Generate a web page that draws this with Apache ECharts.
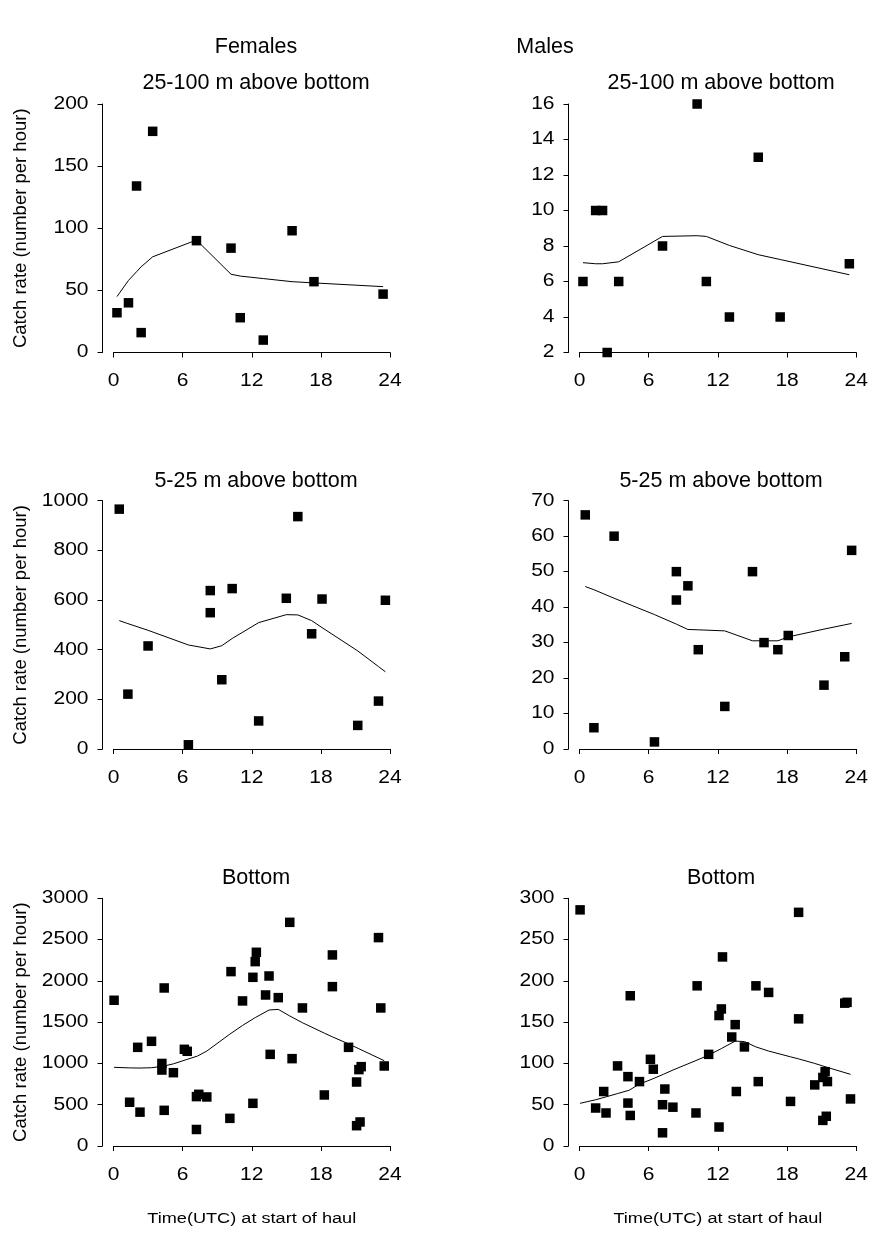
<!DOCTYPE html>
<html>
<head>
<meta charset="utf-8">
<script src="https://cdn.jsdelivr.net/npm/echarts@6/dist/echarts.min.js"></script>
<style>
html,body{margin:0;padding:0;background:#fff;}
#chart{width:869px;height:1245px;}
</style>
</head>
<body>
<div id="chart"></div>
<script>
// ---- data ----
var xTicks = [0, 6, 12, 18, 24];

// Row 1: 25-100 m above bottom
var hoursUpper = [0.3, 1.3, 2.0, 2.4, 3.4, 7.2, 10.2, 11.0, 13.0, 15.5, 17.4, 23.4];
var femUpper   = [32, 40, 134, 16, 178, 90, 84, 28, 10, 98, 57, 47];
var maleUpperHours = [0.3, 1.4, 2.0, 2.4, 3.4, 7.2, 10.2, 11.0, 13.0, 15.5, 17.4, 23.4];
var maleUpper  = [6, 10, 10, 2, 6, 8, 16, 6, 4, 13, 4, 7];
var femUpperFitX = [0.3, 1.3, 2.0, 2.4, 3.4, 7.2, 10.2, 11.0, 13.0, 15.5, 17.4, 23.4];
var femUpperFit  = [45, 58, 65, 69, 77, 90.5, 63, 61.5, 59.5, 57, 56, 53];
var maleUpperFitX = [0.3, 1.4, 2.0, 3.4, 7.2, 10.2, 11.0, 13.0, 15.5, 17.4, 23.4];
var maleUpperFit  = [7.06, 7.0, 7.0, 7.11, 8.54, 8.58, 8.54, 8.03, 7.51, 7.24, 6.38];

// Row 2: 5-25 m above bottom
var hoursMid = [0.5, 1.25, 3.0, 6.5, 8.4, 8.4, 9.4, 10.3, 12.6, 15.0, 16.0, 17.2, 18.1, 21.2, 23.0, 23.6];
var femMid   = [966, 221, 415, 17, 638, 549, 279, 646, 113, 607, 936, 464, 604, 95, 193, 599];
var maleMid  = [66, 6, 60, 2, 50, 42, 46, 28, 12, 50, 30, 28, 32, 18, 26, 56];
var midFitX  = [0.5, 1.25, 3.0, 6.5, 8.4, 9.4, 10.3, 12.6, 15.0, 16.0, 17.2, 18.1, 21.2, 23.0, 23.6];
var femMidFit  = [517, 505, 478, 419, 403, 416, 445, 509, 541, 540, 517, 489, 395, 332, 311];
var maleMidFit = [45.8, 44.9, 42.5, 37.9, 35.2, 33.7, 33.6, 33.3, 30.5, 30.5, 30.5, 31.6, 33.8, 35.0, 35.4];

// Row 3: bottom
var hoursBotF = [0.05, 1.4, 2.1, 2.3, 3.3, 4.2, 4.2, 4.4, 4.4, 5.2, 6.15, 6.4, 7.2, 7.4, 7.2, 8.1, 10.1, 10.2, 11.2, 12.1, 12.1, 12.3, 12.4, 13.2, 13.5, 13.6, 14.3, 15.3, 15.5, 16.4, 18.3, 19.0, 19.0, 20.4, 21.1, 21.1, 21.4, 21.3, 21.5, 23.0, 23.2, 23.5];
var femBot    = [1765, 530, 1195, 410, 1268, 1000, 920, 1914, 432, 888, 1171, 1147, 598, 626, 200, 594, 335, 2112, 1757, 2043, 517, 2233, 2346, 1829, 2059, 1110, 1797, 2709, 1058, 1672, 618, 2314, 1930, 1195, 775, 246, 291, 925, 961, 2524, 1672, 969];
var hoursBotM = [0.05, 1.4, 2.1, 2.3, 3.3, 4.2, 4.2, 4.4, 4.4, 5.2, 6.15, 6.4, 7.2, 7.4, 7.2, 8.1, 10.1, 10.2, 11.2, 12.1, 12.1, 12.3, 12.4, 13.2, 13.5, 13.6, 14.3, 15.3, 15.5, 16.4, 18.3, 19.0, 19.0, 20.4, 21.1, 21.4, 21.1, 21.3, 21.5, 23.0, 23.2, 23.5];
var maleBot   = [286, 46, 66, 40, 97, 84, 52, 182, 37, 78, 105, 93, 50, 69, 16, 47, 40, 194, 111, 158, 23, 166, 229, 132, 147, 66, 120, 194, 78, 186, 54, 283, 154, 74, 31, 36, 83, 90, 78, 173, 174, 57];
var botFitX    = [0.05, 1.4, 2.3, 3.3, 4.3, 5.2, 6.3, 7.3, 8.1, 10.1, 11.2, 12.3, 13.5, 14.3, 15.3, 16.4, 18.3, 19.0, 20.4, 21.3, 23.5];
var femBotFit  = [953, 946, 944, 948, 966, 995, 1045, 1090, 1150, 1355, 1460, 1555, 1647, 1655, 1575, 1493, 1367, 1322, 1237, 1178, 1033];
var maleBotFit = [51.7, 56, 59.5, 63.5, 67.5, 75, 81, 87, 92, 103.5, 110, 118, 127, 126.5, 120, 115, 108, 105.5, 100, 96, 86.8];

// y-axis scales per panel [min, max, interval]
var yScales = [[0, 200, 50], [2, 16, 2], [0, 1000, 200], [0, 70, 10], [0, 3000, 500], [0, 300, 50]];

// ---- layout ----
var FONT = "'Liberation Sans', Arial, sans-serif";
var TICK_FS = 17.5, XNAME_FS = 15.5;
var STRETCH = {};
STRETCH[TICK_FS] = 1.2;
STRETCH[XNAME_FS] = 1.17;
var colLeft = [113.5, 579.5], colWidth = [276.5, 277];
var rowTop = [104, 500.7, 898.3], rowHeight = [248.5, 248.3, 247.7];

function zip(xs, ys) { return xs.map(function (x, i) { return [x, ys[i]]; }); }
function plain(v) { return String(v); }

var scatterData = [zip(hoursUpper, femUpper), zip(maleUpperHours, maleUpper),
                   zip(hoursMid, femMid), zip(hoursMid, maleMid),
                   zip(hoursBotF, femBot), zip(hoursBotM, maleBot)];
var lineData = [zip(femUpperFitX, femUpperFit), zip(maleUpperFitX, maleUpperFit),
                zip(midFitX, femMidFit), zip(midFitX, maleMidFit),
                zip(botFitX, femBotFit), zip(botFitX, maleBotFit)];

var grids = [], xAxes = [], yAxes = [], series = [];
for (var i = 0; i < 6; i++) {
  var c = i % 2, r = Math.floor(i / 2);
  grids.push({ left: colLeft[c], top: rowTop[r], width: colWidth[c], height: rowHeight[r], containLabel: false });
  xAxes.push({
    type: 'value', gridIndex: i, min: xTicks[0], max: xTicks[xTicks.length - 1], interval: 6,
    axisLine: { show: true, onZero: false, lineStyle: { color: '#000', width: 1 } },
    axisTick: { show: true, inside: false, length: 5, lineStyle: { color: '#000' } },
    axisLabel: { color: '#000', fontFamily: FONT, fontSize: TICK_FS, margin: 20, formatter: plain },
    splitLine: { show: false },
    name: r === 2 ? 'Time(UTC) at start of haul' : '',
    nameLocation: 'middle', nameGap: 65,
    nameTextStyle: { color: '#000', fontFamily: FONT, fontSize: XNAME_FS }
  });
  var s = yScales[i];
  yAxes.push({
    type: 'value', gridIndex: i, min: s[0], max: s[1], interval: s[2], offset: 11,
    axisLine: { show: true, onZero: false, lineStyle: { color: '#000', width: 1 } },
    axisTick: { show: true, inside: false, length: 5, lineStyle: { color: '#000' } },
    axisLabel: { color: '#000', fontFamily: FONT, fontSize: TICK_FS, margin: 14, formatter: plain },
    splitLine: { show: false },
    name: c === 0 ? 'Catch rate (number per hour)' : '',
    nameLocation: 'middle', nameGap: 72,
    nameTextStyle: { color: '#000', fontFamily: FONT, fontSize: 18.5 }
  });
  series.push({
    type: 'line', xAxisIndex: i, yAxisIndex: i, data: lineData[i],
    showSymbol: false, symbol: 'none', smooth: false,
    lineStyle: { color: '#000', width: 1 }, z: 2, silent: true, animation: false
  });
  series.push({
    type: 'scatter', xAxisIndex: i, yAxisIndex: i, data: scatterData[i],
    symbol: 'rect', symbolSize: 9.5, clip: false,
    itemStyle: { color: '#000', opacity: 1 }, z: 3, silent: true, animation: false
  });
}

var titleStyle = { color: '#000', fontFamily: FONT, fontSize: 21.5, fontWeight: 'normal' };
var titles = [
  { text: 'Females', left: 251, top: 31, textAlign: 'center', textStyle: titleStyle },
  { text: 'Males', left: 540, top: 31, textAlign: 'center', textStyle: titleStyle }
];
var subTexts = ['25-100 m above bottom', '5-25 m above bottom', 'Bottom'];
var subTop = [67, 465, 862];
for (var r2 = 0; r2 < 3; r2++) {
  titles.push({ text: subTexts[r2], left: 251, top: subTop[r2], textAlign: 'center', textStyle: titleStyle });
  titles.push({ text: subTexts[r2], left: 716, top: subTop[r2], textAlign: 'center', textStyle: titleStyle });
}

var chart = echarts.init(document.getElementById('chart'), null, { renderer: 'canvas' });
chart.setOption({
  backgroundColor: '#fff',
  animation: false,
  title: titles,
  grid: grids,
  xAxis: xAxes,
  yAxis: yAxes,
  series: series
});

// widen axis texts horizontally (the reference's axis text is drawn slightly stretched)
function stretchTexts() {
  var zr = chart.getZr();
  function walk(el) {
    if (el.type === 'text' && el.style && STRETCH[el.style.fontSize]) {
      el.scaleX = STRETCH[el.style.fontSize];
      el.markRedraw();
    }
    if (el.isGroup) el.children().forEach(walk);
  }
  zr.storage.getRoots().forEach(walk);
  zr.refreshImmediately();
}
stretchTexts();
</script>
</body>
</html>
